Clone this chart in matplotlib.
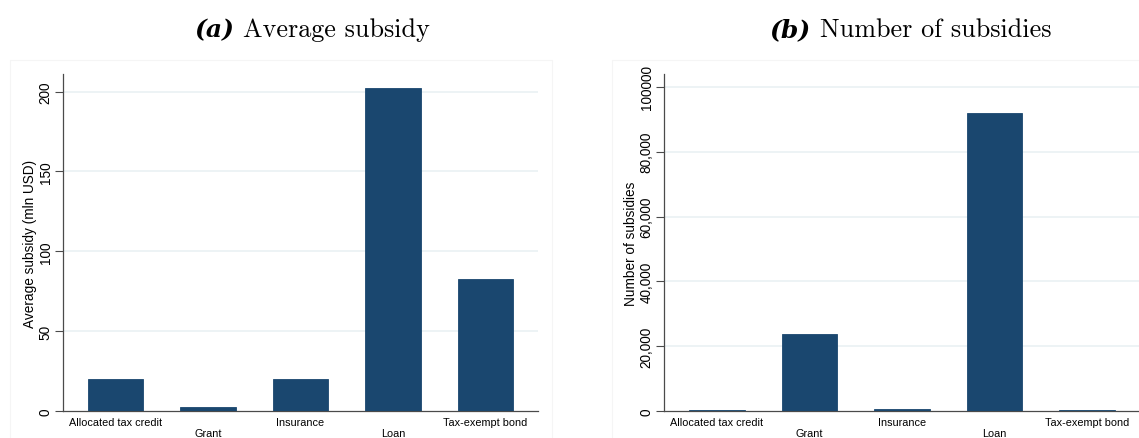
import matplotlib
matplotlib.use("Agg")
import matplotlib.pyplot as plt
from matplotlib.patches import Rectangle
from matplotlib.ticker import FixedLocator

# Subsidy types and their summary values
categories = ["Allocated tax credit", "Grant", "Insurance", "Loan", "Tax-exempt bond"]
avg_subsidy = [20.3, 2.8, 20.0, 202.0, 82.5]          # mln USD
num_subsidies = [250, 23700, 500, 92000, 200]          # count

left_ticks = [0, 50, 100, 150, 200]
left_ticklabels = ["0", "50", "100", "150", "200"]
right_ticks = [0, 20000, 40000, 60000, 80000, 100000]
right_ticklabels = ["0", "20,000", "40,000", "60,000", "80,000", "100000"]

BAR = "#1a476f"
GRID = "#e8f0f2"
AXIS = "#4a4a4a"

W, H = 1139, 439
fig = plt.figure(figsize=(W / 100, H / 100), dpi=100)
fig.patch.set_facecolor("white")


def px_axes(x0, x1, ytop, ybot):
    return fig.add_axes([x0 / W, (H - ybot) / H, (x1 - x0) / W, (ybot - ytop) / H])


def draw_panel(ax, values, ticks, ticklabels, ylim, ylabel):
    x = list(range(len(categories)))
    ax.bar(x, values, width=0.6, color=BAR, edgecolor=BAR, linewidth=0.6, zorder=3)
    ax.set_xlim(-0.57, len(categories) - 1 + 0.57)
    ax.set_ylim(*ylim)
    ax.yaxis.set_major_locator(FixedLocator(ticks))
    ax.set_yticklabels(ticklabels, rotation=90, va="center",
                       family="Liberation Sans", fontsize=9.8)
    ax.set_xticks(x)
    ax.set_xticklabels([c if i % 2 == 0 else "\n" + c for i, c in enumerate(categories)],
                       family="Liberation Sans", fontsize=7.8, linespacing=1.15)
    ax.tick_params(axis="x", length=0, pad=4)
    ax.tick_params(axis="y", length=5.5, width=0.8, color=AXIS, pad=2)
    for t in ticks[1:]:
        ax.axhline(t, color=GRID, lw=1.1, zorder=1)
    for s in ("top", "right"):
        ax.spines[s].set_visible(False)
    for s in ("left", "bottom"):
        ax.spines[s].set_color(AXIS)
        ax.spines[s].set_linewidth(0.9)
    ax.set_ylabel(ylabel, family="Liberation Sans", fontsize=9.8, labelpad=1)
    ax.set_facecolor("white")


# faint outlines of the two graph regions
fig.patches.append(Rectangle((10 / W, -0.01), 542 / W, (H - 61) / H + 0.01,
                             transform=fig.transFigure, fill=False,
                             edgecolor="#f5f5f5", lw=0.8))
fig.patches.append(Rectangle((612 / W, -0.01), 540 / W, (H - 61) / H + 0.01,
                             transform=fig.transFigure, fill=False,
                             edgecolor="#f5f5f5", lw=0.8))

ax1 = px_axes(63, 538, 75, 412)
draw_panel(ax1, avg_subsidy, left_ticks, left_ticklabels, (0, 211), "Average subsidy (mln USD)")

ax2 = px_axes(664, 1140, 75, 412)
draw_panel(ax2, num_subsidies, right_ticks, right_ticklabels, (0, 104000), "Number of subsidies")

# panel captions: bold-italic letter followed by roman text
cap_y = (H - 37) / H
for x_letter, x_text, letter, text in [(234, 243, "(a)", "Average subsidy"),
                                       (811, 820, "(b)", "Number of subsidies")]:
    fig.text(x_letter / W, cap_y, letter, ha="right", va="baseline",
             family="DejaVu Serif", weight="bold", style="italic", fontsize=18)
    fig.text(x_text / W, cap_y, text, ha="left", va="baseline",
             family="cmr10", fontsize=18.8)

fig.savefig("out.png", dpi=100, facecolor="white")
